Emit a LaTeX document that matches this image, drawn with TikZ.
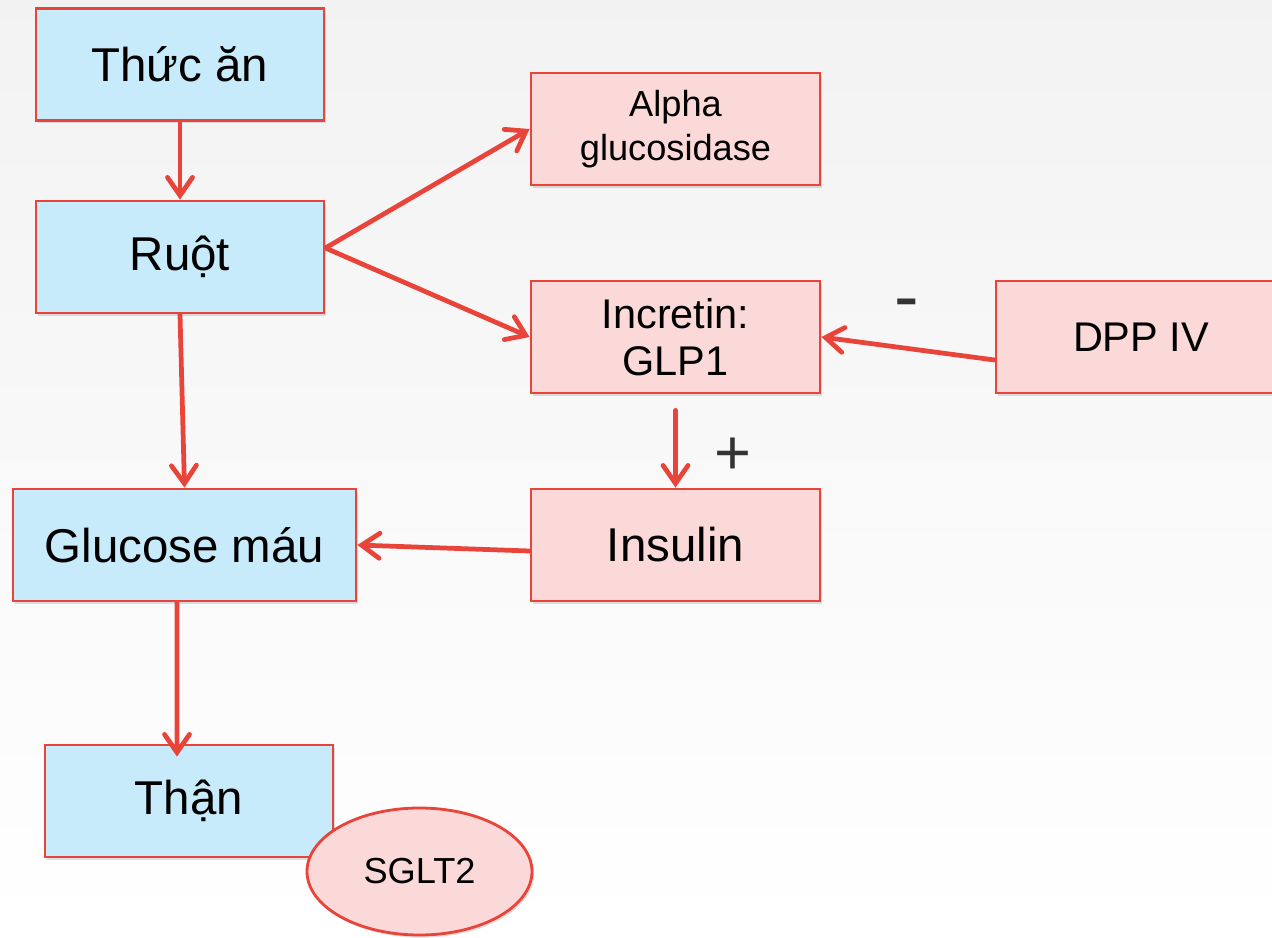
\documentclass[tikz,border=0pt]{standalone}
\usepackage{fontspec}
\setmainfont{Liberation Sans}
\usepackage{tikz}
\usetikzlibrary{arrows.meta,shapes.geometric,shadows}

\definecolor{linered}{HTML}{E9443A}
\definecolor{boxblue}{HTML}{C8EBFB}
\definecolor{boxpink}{HTML}{FCD9D9}

\tikzset{
	box/.style={rectangle,draw=linered,line width=1.6pt,minimum height=2.24cm,align=center,
		drop shadow={shadow xshift=1.2pt,shadow yshift=-1.5pt,opacity=0.25}},
	bluebox/.style={box,fill=boxblue,minimum width=5.76cm},
	pinkbox/.style={box,fill=boxpink,minimum width=5.78cm},
	link/.style={draw=linered,line width=2.7pt,line cap=round,
		-{Straight Barb[length=3.6mm,width=5mm,line cap=round]}},
	big/.style={font=\fontsize{27}{31}\selectfont},
	mid/.style={font=\fontsize{23.6}{27}\selectfont},
	small/.style={font=\fontsize{20.6}{25}\selectfont}
}

\begin{document}
\begin{tikzpicture}
				% background
				\shade[top color=gray!10,bottom color=white] (0,0) rectangle (25.44,-18.74);
				\useasboundingbox (0,0) rectangle (25.44,-18.74);
				
				% left column
				\node[bluebox,big] (thuc) at (3.6,-1.29) {Thức ăn};
				\node[bluebox,big] (ruot) at (3.6,-5.14) {Ruột};
				\node[bluebox,big,minimum width=6.86cm] (glucose) at (3.69,-10.9) {Glucose máu};
				\node[bluebox,big] (than) at (3.78,-16.02) {Thận};
				\node[ellipse,draw=linered,line width=1.6pt,fill=boxpink,minimum width=4.5cm,minimum height=2.54cm,
					drop shadow={shadow xshift=1.2pt,shadow yshift=-1.5pt,opacity=0.25},small] (sglt) at (8.39,-17.43) {SGLT2};
				
				% middle and right
				\node[pinkbox,small,text width=5.2cm] (alpha) at (13.51,-2.58) {Alpha\\glucosidase};
				\node[pinkbox,mid,text width=5.2cm] (incretin) at (13.51,-6.74) {Incretin:\\GLP1};
				\node[pinkbox,mid,minimum width=5.8cm] (dpp) at (22.82,-6.74) {DPP IV};
				\node[pinkbox,big] (insulin) at (13.51,-10.9) {Insulin};
				
				% signs
				\node[font=\fontsize{42}{42}\selectfont,text=black!80] (minus) at (18.14,-6.2) {-};
				\node[font=\fontsize{36}{36}\selectfont,text=black!80] (plus) at (14.66,-9.12) {+};
				
				% arrows
				\draw[link] (thuc.south) -- (ruot.north);
				\draw[link] ([yshift=0.18cm]ruot.east) -- (alpha.west);
				\draw[link] ([yshift=0.18cm]ruot.east) -- (incretin.west);
				\draw[link] (ruot.south) -- (glucose.north);
				\draw[link] ([yshift=-0.46cm]dpp.west) -- (incretin.east);
				\draw[link] ([yshift=-0.32cm]incretin.south) -- (insulin.north);
				\draw[link] ([yshift=-0.12cm]insulin.west) -- (glucose.east);
				\draw[link] ([xshift=-0.15cm]glucose.south) -- ([xshift=-0.24cm,yshift=-0.26cm]than.north);
				
\end{tikzpicture}
\end{document}
